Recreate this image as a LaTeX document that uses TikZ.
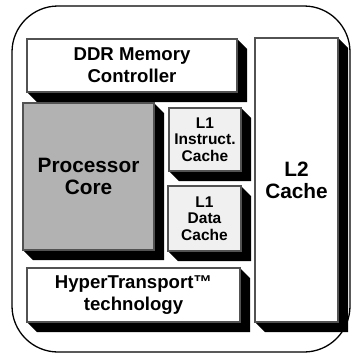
\documentclass[tikz,border=0pt]{standalone}
\usepackage{fontspec}
\setmainfont{Liberation Sans}
\usetikzlibrary{calc,backgrounds}

\tikzset{
  unit/.style={draw=black!68, line width=1.1pt, fill=white, rectangle,
    inner sep=0pt, outer sep=0pt, align=center, text=black},
  bigtext/.style={font=\bfseries\fontsize{18.6}{21.7}\selectfont},
  hugetext/.style={font=\bfseries\fontsize{20.8}{22}\selectfont},
  smalltext/.style={font=\bfseries\fontsize{15.5}{16.3}\selectfont},
  core/.style={fill=black!30},
  l1/.style={fill=black!6},
  frame/.style={draw=black, line width=1.3pt, rounded corners=46pt,
    rectangle, inner sep=0pt, outer sep=0pt},
  extrude/.style={fill=black, draw=none}
}

% solid 3-D extrusion behind a block, offset right and down
\newcommand\extrudeblock[1]{%
  \fill[extrude] (#1.north east) -- ($(#1.north east)+(10,10)$)
    -- ($(#1.south east)+(10,10)$) -- ($(#1.south west)+(10,10)$)
    -- (#1.south west) -- (#1.south east) -- cycle;}

\begin{document}
\begin{tikzpicture}[x=1pt, y=-1pt]
  \useasboundingbox (0,0) rectangle (355,354);

  % chip outline
  \node[frame, minimum width=338pt, minimum height=346pt] (chip) at (181,179) {};

  % functional blocks (centre, width, height)
  \node[unit, bigtext, minimum width=210pt, minimum height=53pt]
    (ddr) at (132,65.5) {DDR Memory\\Controller};
  \node[unit, core, hugetext, minimum width=131pt, minimum height=147pt]
    (cpu) at (88.5,176.5) {Processor\\Core};
  \node[unit, l1, smalltext, minimum width=72pt, minimum height=63pt]
    (l1i) at (205,139.5) {L1\\Instruct.\\Cache};
  \node[unit, l1, smalltext, minimum width=73pt, minimum height=65pt]
    (l1d) at (204.5,218.5) {L1\\Data\\Cache};
  \node[unit, hugetext, minimum width=83pt, minimum height=284pt]
    (l2) at (296.5,180) {L2\\Cache};
  \node[unit, bigtext, minimum width=213pt, minimum height=54pt]
    (ht) at (133.5,295) {HyperTransport™\\technology};

  \begin{scope}[on background layer]
    \fill[white] (0,0) rectangle (355,354);
    \extrudeblock{ddr}
    \extrudeblock{cpu}
    \extrudeblock{l1i}
    \extrudeblock{l1d}
    \extrudeblock{l2}
    \extrudeblock{ht}
  \end{scope}
\end{tikzpicture}
\end{document}
